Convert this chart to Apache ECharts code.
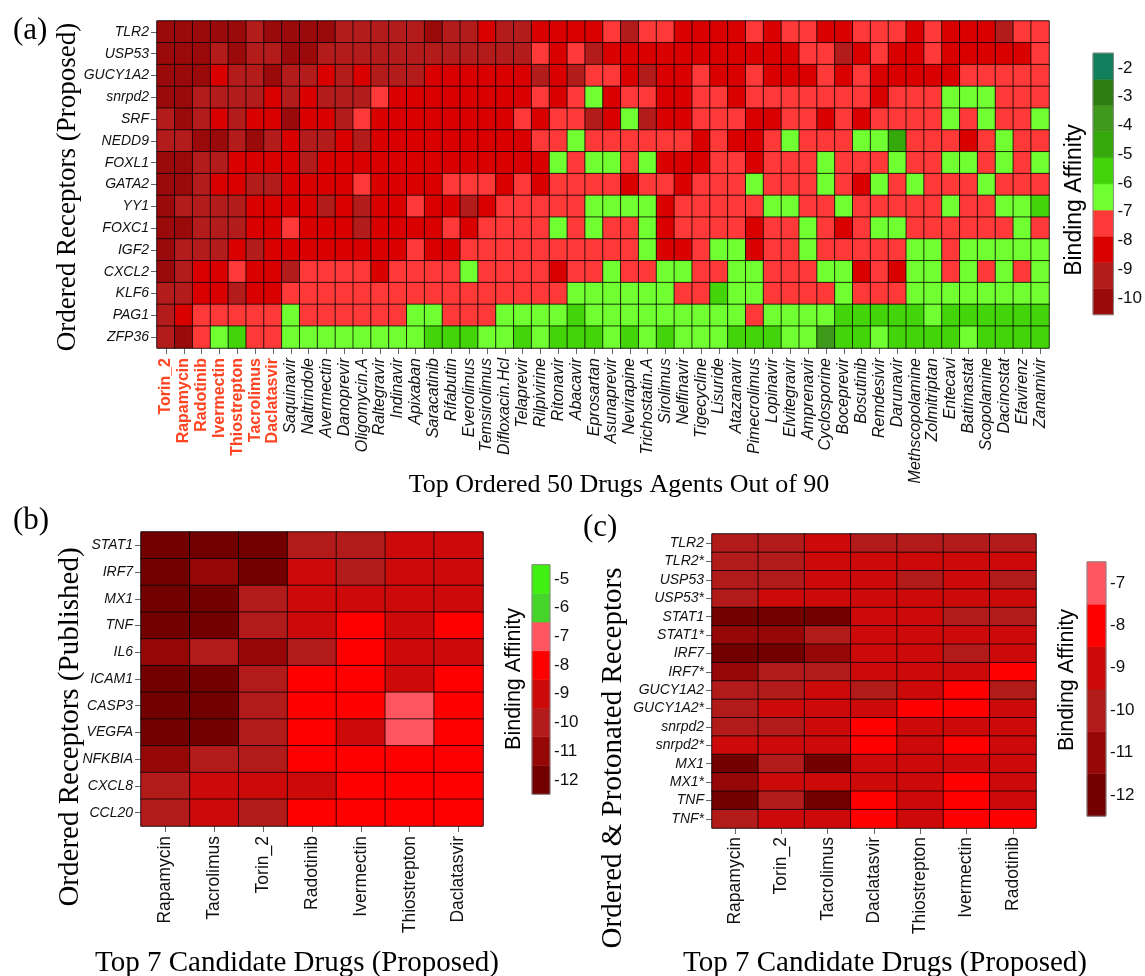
<!DOCTYPE html>
<html>
<head>
<meta charset="utf-8">
<script src="https://cdn.jsdelivr.net/npm/echarts@6/dist/echarts.min.js"></script>
<style>
html, body { margin: 0; padding: 0; background: #fff; }
#chart { width: 1145px; height: 976px; }
</style>
</head>
<body>
<div id="chart"></div>
<script>
// ---- panel (a): 15 receptors x 50 drugs ----
var drugsA = ['Torin_2', 'Rapamycin', 'Radotinib', 'Ivermectin', 'Thiostrepton', 'Tacrolimus', 'Daclatasvir',
  'Saquinavir', 'Naltrindole', 'Avermectin', 'Danoprevir', 'Oligomycin.A', 'Raltegravir', 'Indinavir', 'Apixaban',
  'Saracatinib', 'Rifabutin', 'Everolimus', 'Temsirolimus', 'Difloxacin.Hcl', 'Telaprevir', 'Rilpivirine', 'Ritonavir',
  'Abacavir', 'Eprosartan', 'Asunaprevir', 'Nevirapine', 'Trichostatin.A', 'Sirolimus', 'Nelfinavir', 'Tigecycline',
  'Lisuride', 'Atazanavir', 'Pimecrolimus', 'Lopinavir', 'Elvitegravir', 'Amprenavir', 'Cyclosporine', 'Boceprevir',
  'Bosutinib', 'Remdesivir', 'Darunavir', 'Methscopolamine', 'Zolmitriptan', 'Entecavi', 'Batimastat', 'Scopolamine',
  'Dacinostat', 'Efavirenz', 'Zanamivir'];
var receptorsA = ['TLR2', 'USP53', 'GUCY1A2', 'snrpd2', 'SRF', 'NEDD9', 'FOXL1', 'GATA2', 'YY1', 'FOXC1', 'IGF2', 'CXCL2', 'KLF6', 'PAG1', 'ZFP36'];

var tlr2 = [-10,-10,-10,-10,-10,-9.2,-10,-10,-10,-10,-9.2,-9.2,-9.2,-9.2,-9.2,-10, -9.2,-9.2,-8.3,-9.2,-9.2,-8.3,-8.3,-8.3,-8.3,-7.3,-9.2,-7.3,-7.3,-8.3,-8.3,-8.3,-8.3, -7.3,-8.3,-7.3,-7.3,-8.3,-8.3,-7.3,-7.3,-7.3,-8.3,-7.3,-8.3,-8.3,-8.3,-9.2,-7.3,-7.3];
var usp53 = [-10,-10,-10,-9.2,-10,-9.2,-9.2,-10,-10,-9.2,-9.2,-9.2,-9.2,-9.2,-9.2,-9.2, -9.2,-9.2,-9.2,-9.2,-9.2,-7.3,-8.3,-7.3,-9.2,-8.3,-8.3,-8.3,-8.3,-8.3,-8.3,-8.3,-8.3, -8.3,-8.3,-8.3,-7.3,-7.3,-9.2,-8.3,-7.3,-8.3,-8.3,-7.3,-8.3,-8.3,-8.3,-8.3,-8.3,-7.3];
var gucy1a2 = [-10,-10,-10,-8.3,-9.2,-9.2,-10,-9.2,-9.2,-8.3,-9.2,-8.3,-9.2,-9.2,-9.2,-8.3, -8.3,-8.3,-8.3,-8.3,-8.3,-9.2,-8.3,-9.2,-7.3,-7.3,-8.3,-9.2,-8.3,-8.3,-7.3,-8.3,-8.3, -7.3,-8.3,-8.3,-8.3,-7.3,-8.3,-7.3,-8.3,-8.3,-8.3,-8.3,-8.3,-7.3,-7.3,-7.3,-7.3,-7.3];
var snrpd2 = [-10,-10,-9.2,-9.2,-9.2,-9.2,-8.3,-9.2,-8.3,-9.2,-9.2,-9.2,-7.3,-8.3,-8.3,-8.3, -8.3,-8.3,-8.3,-8.3,-8.3,-7.3,-8.3,-7.3,-6.5,-8.3,-7.3,-7.3,-8.3,-8.3,-7.3,-7.3,-8.3, -7.3,-7.3,-7.3,-7.3,-7.3,-7.3,-7.3,-8.3,-7.3,-7.3,-7.3,-6.5,-6.5,-6.5,-7.3,-7.3,-7.3];
var srf = [-9.2,-10,-9.2,-8.3,-9.2,-8.3,-8.3,-10,-8.3,-8.3,-9.2,-7.3,-8.3,-8.3,-8.3,-8.3, -8.3,-8.3,-8.3,-8.3,-7.3,-8.3,-7.3,-7.3,-9.2,-8.3,-6.5,-9.2,-8.3,-8.3,-7.3,-7.3,-7.3, -8.3,-8.3,-7.3,-7.3,-8.3,-7.3,-8.3,-7.3,-7.3,-7.3,-7.3,-6.5,-7.3,-6.5,-7.3,-7.3,-6.5];
var nedd9 = [-9.2,-9.2,-10,-10,-9.2,-10,-9.2,-8.3,-9.2,-9.2,-8.3,-9.2,-8.3,-8.3,-8.3,-8.3, -8.3,-8.3,-8.3,-8.3,-8.3,-7.3,-7.3,-6.5,-7.3,-7.3,-7.3,-7.3,-7.3,-7.3,-8.3,-7.3,-8.3, -8.3,-7.3,-6.5,-7.3,-7.3,-7.3,-6.5,-6.5,-4.6,-7.3,-7.3,-7.3,-8.3,-7.3,-6.5,-7.3,-7.3];
var foxl1 = [-10,-10,-9.2,-9.2,-8.3,-8.3,-8.3,-8.3,-9.2,-8.3,-8.3,-8.3,-8.3,-8.3,-8.3,-8.3, -8.3,-8.3,-8.3,-8.3,-8.3,-8.3,-6.5,-7.3,-6.5,-6.5,-7.3,-6.5,-8.3,-8.3,-8.3,-7.3,-7.3, -8.3,-7.3,-7.3,-7.3,-6.5,-7.3,-7.3,-7.3,-6.5,-7.3,-7.3,-6.5,-6.5,-7.3,-6.5,-7.3,-6.5];
var gata2 = [-10,-10,-9.2,-8.3,-8.3,-9.2,-9.2,-8.3,-8.3,-8.3,-8.3,-7.3,-8.3,-8.3,-8.3,-8.3, -7.3,-7.3,-7.3,-8.3,-7.3,-8.3,-7.3,-7.3,-7.3,-7.3,-8.3,-7.3,-7.3,-8.3,-7.3,-7.3,-7.3, -6.5,-7.3,-7.3,-7.3,-6.5,-7.3,-8.3,-6.5,-7.3,-6.5,-7.3,-7.3,-7.3,-6.5,-7.3,-7.3,-7.3];
var yy1 = [-10,-9.2,-9.2,-9.2,-9.2,-8.3,-8.3,-8.3,-8.3,-9.2,-8.3,-9.2,-8.3,-8.3,-7.3,-8.3, -8.3,-9.2,-8.3,-7.3,-7.3,-7.3,-7.3,-7.3,-6.5,-6.5,-6.5,-6.5,-8.3,-7.3,-7.3,-7.3,-7.3, -7.3,-6.5,-6.5,-7.3,-7.3,-6.5,-7.3,-7.3,-7.3,-7.3,-7.3,-6.5,-7.3,-7.3,-6.5,-6.5,-5.6];
var foxc1 = [-10,-10,-9.2,-9.2,-9.2,-8.3,-8.3,-7.3,-8.3,-8.3,-8.3,-9.2,-8.3,-8.3,-8.3,-8.3, -7.3,-8.3,-7.3,-7.3,-7.3,-7.3,-6.5,-7.3,-6.5,-7.3,-7.3,-6.5,-8.3,-7.3,-7.3,-7.3,-7.3, -8.3,-7.3,-7.3,-6.5,-7.3,-8.3,-7.3,-6.5,-6.5,-7.3,-7.3,-7.3,-7.3,-7.3,-7.3,-6.5,-7.3];
var igf2 = [-10,-9.2,-9.2,-9.2,-8.3,-9.2,-8.3,-8.3,-8.3,-8.3,-8.3,-8.3,-8.3,-8.3,-7.3,-8.3, -8.3,-7.3,-7.3,-7.3,-7.3,-7.3,-7.3,-7.3,-7.3,-7.3,-7.3,-6.5,-8.3,-8.3,-7.3,-6.5,-6.5, -8.3,-7.3,-7.3,-6.5,-7.3,-7.3,-7.3,-7.3,-7.3,-6.5,-6.5,-7.3,-6.5,-6.5,-6.5,-6.5,-6.5];
var cxcl2 = [-10,-9.2,-8.3,-8.3,-7.3,-8.3,-8.3,-9.2,-7.3,-7.3,-7.3,-7.3,-8.3,-7.3,-7.3,-7.3, -7.3,-6.5,-7.3,-7.3,-7.3,-7.3,-8.3,-7.3,-7.3,-6.5,-7.3,-7.3,-6.5,-6.5,-7.3,-7.3,-6.5, -6.5,-7.3,-7.3,-7.3,-6.5,-6.5,-8.3,-7.3,-8.3,-6.5,-6.5,-7.3,-6.5,-7.3,-6.5,-7.3,-6.5];
var klf6 = [-9.2,-9.2,-8.3,-8.3,-9.2,-8.3,-8.3,-7.3,-7.3,-7.3,-7.3,-7.3,-7.3,-7.3,-7.3,-7.3, -7.3,-7.3,-7.3,-7.3,-7.3,-7.3,-7.3,-6.5,-6.5,-6.5,-6.5,-6.5,-6.5,-7.3,-7.3,-5.6,-6.5, -6.5,-7.3,-7.3,-7.3,-7.3,-6.5,-7.3,-7.3,-7.3,-6.5,-6.5,-6.5,-6.5,-6.5,-6.5,-6.5,-6.5];
var pag1 = [-9.2,-8.3,-7.3,-7.3,-7.3,-7.3,-7.3,-6.5,-7.3,-7.3,-7.3,-7.3,-7.3,-7.3,-6.5,-6.5, -7.3,-7.3,-7.3,-6.5,-6.5,-6.5,-6.5,-5.6,-6.5,-6.5,-6.5,-6.5,-6.5,-6.5,-6.5,-6.5,-6.5, -7.3,-6.5,-6.5,-6.5,-6.5,-5.6,-5.6,-5.6,-5.6,-5.6,-6.5,-5.6,-5.6,-5.6,-5.6,-5.6,-5.6];
var zfp36 = [-9.2,-10,-7.3,-6.5,-5.6,-7.3,-7.3,-6.5,-6.5,-6.5,-6.5,-6.5,-6.5,-6.5,-6.5,-5.6, -5.6,-5.6,-6.5,-6.5,-5.6,-6.5,-5.6,-5.6,-5.6,-6.5,-5.6,-6.5,-5.6,-6.5,-6.5,-6.5,-5.6, -5.6,-5.6,-6.5,-6.5,-3.8,-5.6,-5.6,-6.5,-5.6,-5.6,-5.6,-5.6,-6.5,-5.6,-5.6,-5.6,-5.6];
var valuesA = [tlr2, usp53, gucy1a2, snrpd2, srf, nedd9, foxl1, gata2, yy1, foxc1, igf2, cxcl2, klf6, pag1, zfp36];

var breaksA = [-10.58, -9.67, -8.76, -7.85, -6.94, -6.03, -5.12, -4.21, -3.30, -2.39, -1.48];
var colorsA = ['#9b0a0a', '#b41b1b', '#d90000', '#ff3838', '#70ff30', '#44d40a', '#35a80a', '#3f9a1c', '#2e7d12', '#127f5c'];

// ---- panel (b): published receptors ----
var drugsB = ['Rapamycin', 'Tacrolimus', 'Torin_2', 'Radotinib', 'Ivermectin', 'Thiostrepton', 'Daclatasvir'];
var receptorsB = ['STAT1', 'IRF7', 'MX1', 'TNF', 'IL6', 'ICAM1', 'CASP3', 'VEGFA', 'NFKBIA', 'CXCL8', 'CCL20'];
var stat1B = [-12, -12, -12, -10, -10, -9, -9];
var irf7B = [-12, -11, -12, -9, -10, -9, -9];
var mx1B = [-12, -12, -10, -9, -9, -9, -9];
var tnfB = [-12, -12, -10, -9, -8, -9, -8];
var il6B = [-11, -10, -11, -10, -8, -9, -9];
var icam1B = [-12, -12, -10, -8, -8, -9, -8];
var casp3B = [-12, -12, -10, -8, -8, -7, -8];
var vegfaB = [-12, -12, -10, -8, -9, -7, -8];
var nfkbiaB = [-11, -10, -10, -8, -8, -8, -8];
var cxcl8B = [-10, -9, -9, -9, -8, -8, -8];
var ccl20B = [-10, -9, -10, -8, -8, -8, -8];
var valuesB = [stat1B, irf7B, mx1B, tnfB, il6B, icam1B, casp3B, vegfaB, nfkbiaB, cxcl8B, ccl20B];

// ---- panel (c): proposed + protonated receptors ----
var drugsC = ['Rapamycin', 'Torin_2', 'Tacrolimus', 'Daclatasvir', 'Thiostrepton', 'Ivermectin', 'Radotinib'];
var receptorsC = ['TLR2', 'TLR2*', 'USP53', 'USP53*', 'STAT1', 'STAT1*', 'IRF7', 'IRF7*', 'GUCY1A2', 'GUCY1A2*',
  'snrpd2', 'snrpd2*', 'MX1', 'MX1*', 'TNF', 'TNF*'];
var tlr2C = [-10, -10, -9, -10, -10, -10, -10];
var tlr2pC = [-10, -10, -9, -9, -9, -9, -9];
var usp53C = [-10, -10, -9, -9, -10, -9, -10];
var usp53pC = [-10, -9, -9, -9, -9, -9, -9];
var stat1C = [-12, -12, -12, -9, -9, -10, -10];
var stat1pC = [-11, -11, -10, -9, -9, -9, -9];
var irf7C = [-12, -12, -11, -9, -9, -10, -9];
var irf7pC = [-11, -10, -10, -9, -9, -9, -8];
var gucyC = [-10, -10, -9, -10, -9, -8, -10];
var gucypC = [-10, -9, -9, -9, -8, -8, -9];
var snrpdC = [-10, -10, -9, -8, -9, -9, -9];
var snrpdpC = [-9, -9, -9, -8, -9, -8, -9];
var mx1C = [-12, -10, -12, -9, -9, -9, -9];
var mx1pC = [-11, -9, -9, -9, -9, -8, -9];
var tnfC = [-12, -10, -12, -8, -9, -8, -9];
var tnfpC = [-10, -9, -9, -8, -9, -8, -8];
var valuesC = [tlr2C, tlr2pC, usp53C, usp53pC, stat1C, stat1pC, irf7C, irf7pC, gucyC, gucypC, snrpdC, snrpdpC, mx1C, mx1pC, tnfC, tnfpC];

var breaksB = [-12.5, -11.5, -10.5, -9.5, -8.5, -7.5, -6.5, -5.5, -4.5];
var colorsB = ['#720000', '#960808', '#b31a1a', '#cc0a0a', '#ff0000', '#ff5560', '#44d42a', '#40f010'];
var breaksC = breaksB.slice(0, 7);

var SANS = 'Liberation Sans, Arial, sans-serif';
var SERIF = 'Liberation Serif, Times New Roman, serif';

function toCells(values) {
  var out = [];
  values.forEach(function (row, r) {
    row.forEach(function (v, c) { out.push([c, r, v]); });
  });
  return out;
}
function toPieces(breaks, colors) {
  return breaks.slice(0, -1).map(function (lo, i) {
    return { gte: lo, lt: breaks[i + 1], color: colors[i] };
  });
}
function toBands(breaks) {
  return breaks.slice(0, -1).map(function (lo, i) { return [0, lo, breaks[i + 1]]; });
}
// colour bar drawn as stacked rectangles on a value axis, with a thin frame on top
function colorBar(idx, breaks, colors) {
  var last = breaks.length - 2;
  return {
    type: 'custom', xAxisIndex: idx, yAxisIndex: idx, silent: true,
    encode: { x: 0, y: [1, 2] },
    data: toBands(breaks),
    renderItem: function (params, api) {
      var p1 = api.coord([0, api.value(2)]);
      var p2 = api.coord([1, api.value(1)]);
      var band = {
        type: 'rect',
        shape: { x: p1[0], y: p1[1], width: p2[0] - p1[0], height: p2[1] - p1[1] },
        style: { fill: colors[params.dataIndex], stroke: colors[params.dataIndex], lineWidth: 0.5 }
      };
      if (params.dataIndex !== last) return band;
      var t = api.coord([0, breaks[breaks.length - 1]]);
      var b = api.coord([1, breaks[0]]);
      return { type: 'group', children: [band, {
        type: 'rect', z2: 10,
        shape: { x: t[0], y: t[1], width: b[0] - t[0], height: b[1] - t[1] },
        style: { fill: 'none', stroke: '#888', lineWidth: 1 }
      }] };
    }
  };
}
function heatX(names, grid, size, margin, fmt) {
  return {
    type: 'category', gridIndex: grid, data: names,
    axisLine: { show: false },
    axisTick: { show: true, alignWithLabel: true, length: 6, lineStyle: { color: '#666' } },
    axisLabel: { interval: 0, rotate: 90, margin: margin, fontSize: size, fontFamily: SANS, color: '#111', formatter: fmt,
      rich: fmt ? {
        hl: { color: '#ff4422', fontWeight: 'bold', fontSize: size, fontFamily: SANS },
        it: { color: '#111', fontStyle: 'italic', fontSize: size, fontFamily: SANS }
      } : undefined },
    splitLine: { show: false }
  };
}
function heatY(names, grid) {
  return {
    type: 'category', gridIndex: grid, data: names, inverse: true,
    axisLine: { show: false },
    axisTick: { show: true, alignWithLabel: true, length: 6, lineStyle: { color: '#666' } },
    axisLabel: { interval: 0, margin: 8, fontSize: 14, fontStyle: 'italic', fontFamily: SANS, color: '#111' },
    splitLine: { show: false }
  };
}
function barX(grid) {
  return { type: 'value', gridIndex: grid, min: 0, max: 1, show: false };
}
function barY(grid, min, max) {
  return {
    type: 'value', gridIndex: grid, position: 'right', min: min, max: max, interval: 1,
    axisLine: { show: false }, axisTick: { show: false }, splitLine: { show: false },
    axisLabel: { showMinLabel: false, showMaxLabel: false, margin: 4, fontSize: 17, fontFamily: SANS, color: '#111' }
  };
}
function heatSeries(idx, values) {
  return {
    type: 'heatmap', xAxisIndex: idx, yAxisIndex: idx, data: toCells(values),
    itemStyle: { borderColor: 'rgba(0,0,0,0.75)', borderWidth: 1 },
    emphasis: { disabled: true }
  };
}
function vText(text, x, y, size, family) {
  return { type: 'text', x: x, y: y, rotation: Math.PI / 2,
    style: { text: text, fontSize: size, fontFamily: family, fill: '#000',
      align: 'center', verticalAlign: 'middle', textAlign: 'center', textVerticalAlign: 'middle' } };
}
function hText(text, x, y, size) {
  return { type: 'text', x: x, y: y,
    style: { text: text, fontSize: size, fontFamily: SERIF, fill: '#000',
      align: 'center', verticalAlign: 'middle', textAlign: 'center', textVerticalAlign: 'middle' } };
}

var myChart = echarts.init(document.getElementById('chart'));
var option = {
  backgroundColor: '#fff',
  animation: false,
  title: [
    { text: '(a)', left: 8, top: 10, textStyle: { fontFamily: SERIF, fontSize: 31, fontWeight: 'normal', color: '#000' } },
    { text: '(b)', left: 8, top: 500, textStyle: { fontFamily: SERIF, fontSize: 31, fontWeight: 'normal', color: '#000' } },
    { text: '(c)', left: 578, top: 507, textStyle: { fontFamily: SERIF, fontSize: 31, fontWeight: 'normal', color: '#000' } }
  ],
  grid: [
    { left: 157, top: 21, width: 892, height: 327, show: true, borderColor: '#777', borderWidth: 1, backgroundColor: 'transparent' },
    { left: 1093, top: 39.3, width: 21, height: 287.5 },
    { left: 141, top: 532, width: 342, height: 294, show: true, borderColor: '#777', borderWidth: 1, backgroundColor: 'transparent' },
    { left: 532, top: 550.3, width: 18, height: 258.3 },
    { left: 712, top: 534, width: 324, height: 294, show: true, borderColor: '#777', borderWidth: 1, backgroundColor: 'transparent' },
    { left: 1087, top: 540.6, width: 19, height: 296.8 }
  ],
  xAxis: [
    heatX(drugsA, 0, 16, 10, function (v) { return drugsB.indexOf(v) >= 0 ? '{hl|' + v + '}' : '{it|' + v + '}'; }),
    barX(1),
    heatX(drugsB, 2, 17.5, 10),
    barX(3),
    heatX(drugsC, 4, 17.5, 9),
    barX(5)
  ],
  yAxis: [
    heatY(receptorsA, 0),
    barY(1, -11, -1),
    heatY(receptorsB, 2),
    barY(3, -13, -4),
    heatY(receptorsC, 4),
    barY(5, -13, -6)
  ],
  visualMap: [
    { type: 'piecewise', show: false, seriesIndex: 0, dimension: 2, pieces: toPieces(breaksA, colorsA) },
    { type: 'piecewise', show: false, seriesIndex: 2, dimension: 2, pieces: toPieces(breaksB, colorsB) },
    { type: 'piecewise', show: false, seriesIndex: 4, dimension: 2, pieces: toPieces(breaksC, colorsB) }
  ],
  series: [
    heatSeries(0, valuesA),
    colorBar(1, breaksA, colorsA),
    heatSeries(2, valuesB),
    colorBar(3, breaksB, colorsB),
    heatSeries(4, valuesC),
    colorBar(5, breaksC, colorsB)
  ],
  graphic: [
    vText('Ordered Receptors (Proposed)', 68, 187, 27, SERIF),
    hText('Top Ordered 50 Drugs Agents Out of 90', 619, 485, 26),
    vText('Binding Affinity', 1075, 200, 23, SANS),
    vText('Ordered Receptors (Published)', 70, 727, 29, SERIF),
    hText('Top 7 Candidate Drugs (Proposed)', 297, 963, 29),
    vText('Binding Affinity', 514, 679, 21.5, SANS),
    vText('Ordered & Protonated Receptors', 613, 758, 29, SERIF),
    hText('Top 7 Candidate Drugs (Proposed)', 885, 963, 29),
    vText('Binding Affinity', 1067, 680, 21.5, SANS)
  ]
};
myChart.setOption(option);
window.onresize = function () { myChart.resize(); };
</script>
</body>
</html>
